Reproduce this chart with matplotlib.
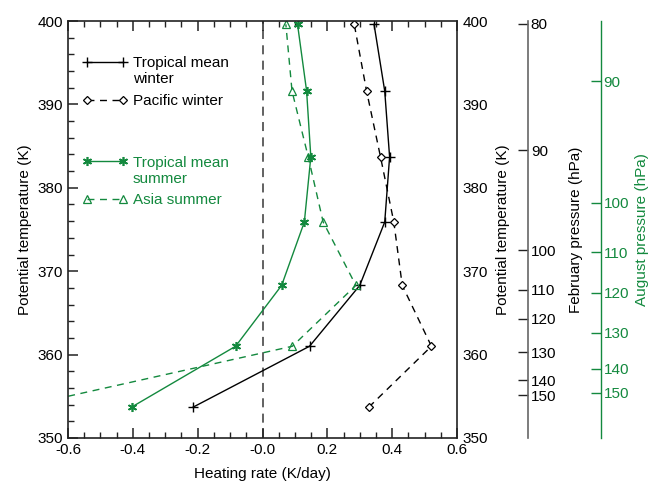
import matplotlib
matplotlib.use("Agg")
import matplotlib.pyplot as plt
from matplotlib.ticker import MultipleLocator, NullLocator
from matplotlib.lines import Line2D

plt.rcParams['font.family'] = ['Liberation Sans', 'DejaVu Sans']
plt.rcParams['font.size'] = 11
plt.rcParams['axes.unicode_minus'] = False

# ---- data ----
theta = [353.7, 361.0, 368.3, 375.9, 383.7, 391.6, 399.6]
trop_winter = [-0.214, 0.145, 0.300, 0.377, 0.392, 0.377, 0.344]
pacific_winter = [0.328, 0.521, 0.431, 0.405, 0.364, 0.321, 0.283]
trop_summer = [-0.404, -0.083, 0.059, 0.129, 0.149, 0.136, 0.108]
asia_summer = [-0.75, 0.092, 0.288, 0.187, 0.141, 0.091, 0.072]

feb_p = [80, 90, 100, 110, 120, 130, 140, 150]
feb_theta = [399.7, 384.5, 372.5, 367.8, 364.3, 360.3, 356.9, 355.1]
aug_p = [90, 100, 110, 120, 130, 140, 150]
aug_theta = [392.8, 378.2, 372.3, 367.4, 362.6, 358.3, 355.4]

GREEN = '#13893e'
SPINE = '#222222'
GRAY = '#666666'

plus_kw = dict(marker='+', ms=6.5, mew=1.0)
dia_kw = dict(marker='D', ms=4, mfc='white', mew=0.9)
star_kw = dict(marker=(6, 2, 0), ms=6.5, mew=1.2)
tri_kw = dict(marker='^', ms=6, mfc='none', mew=0.9)
DASH = (0, (5, 4))

fig = plt.figure(figsize=(6.49, 4.83), dpi=100)
ax = fig.add_axes([0.1048, 0.0932, 0.5994, 0.8633])
ax.set_xlim(-0.6, 0.6)
ax.set_ylim(350, 400)

ax.axvline(0, color='#555555', ls=(0, (5, 3.5)), lw=1.3, zorder=1)

ax.plot(trop_winter, theta, color='black', lw=1, **plus_kw)
ax.plot(pacific_winter, theta, color='black', lw=1, ls=DASH, **dia_kw)
ax.plot(trop_summer, theta, color=GREEN, lw=1, **star_kw)
ax.plot(asia_summer, theta, color=GREEN, lw=1, ls=DASH, **tri_kw)

ax.xaxis.set_major_locator(MultipleLocator(0.2))
ax.xaxis.set_minor_locator(MultipleLocator(0.05))
ax.yaxis.set_major_locator(MultipleLocator(10))
ax.yaxis.set_minor_locator(MultipleLocator(2))
ax.tick_params(which='both', direction='in', top=True, right=True, color=SPINE)
ax.tick_params(which='major', length=7, width=1.1)
ax.tick_params(which='minor', length=4, width=1.0)
ax.set_xticks([-0.6, -0.4, -0.2, 0, 0.2, 0.4, 0.6])
ax.set_xticklabels(['-0.6', '-0.4', '-0.2', '-0.0', '0.2', '0.4', '0.6'])
for s in ax.spines.values():
    s.set_color(SPINE)
    s.set_linewidth(1.2)
ax.set_xlabel('Heating rate (K/day)', labelpad=7)
ax.set_ylabel('Potential temperature (K)', labelpad=4)

# right theta axis labels
axr = ax.twinx()
axr.set_ylim(350, 400)
axr.yaxis.set_major_locator(MultipleLocator(10))
axr.yaxis.set_minor_locator(NullLocator())
axr.tick_params(which='both', length=0, pad=4)
for s in axr.spines.values():
    s.set_visible(False)
axr.set_ylabel('Potential temperature (K)', labelpad=6)

# February pressure axis
axf = ax.twinx()
axf.set_ylim(350, 400)
axf.spines['right'].set_position(('axes', 1.1825))
for k in ['left', 'top', 'bottom']:
    axf.spines[k].set_visible(False)
axf.spines['right'].set_color(GRAY)
axf.spines['right'].set_linewidth(1.2)
axf.set_yticks(feb_theta)
axf.set_yticklabels([str(p) for p in feb_p])
axf.yaxis.set_minor_locator(NullLocator())
axf.tick_params(direction='in', length=7, width=1.0, color=SPINE, pad=2)
axf.set_ylabel('February pressure (hPa)', labelpad=9)

# August pressure axis
axa = ax.twinx()
axa.set_ylim(350, 400)
axa.spines['right'].set_position(('axes', 1.370))
for k in ['left', 'top', 'bottom']:
    axa.spines[k].set_visible(False)
axa.spines['right'].set_color(GREEN)
axa.spines['right'].set_linewidth(1.0)
axa.set_yticks(aug_theta)
axa.set_yticklabels([str(p) for p in aug_p])
axa.yaxis.set_minor_locator(NullLocator())
axa.tick_params(direction='in', length=7, width=1.0, color=GREEN, labelcolor=GREEN, pad=2)
axa.set_ylabel('August pressure (hPa)', color=GREEN, labelpad=4)

# legends
h1 = Line2D([0], [0], color='black', lw=1, **plus_kw)
h2 = Line2D([0], [0], color='black', lw=1, ls=DASH, **dia_kw)
h3 = Line2D([0], [0], color=GREEN, lw=1, **star_kw)
h4 = Line2D([0], [0], color=GREEN, lw=1, ls=DASH, **tri_kw)
common = dict(loc='upper left', frameon=False, numpoints=2, handlelength=2.9,
              handletextpad=0.4, borderpad=0, borderaxespad=0, labelspacing=1.55,
              fontsize=11)
leg1 = ax.legend([h1, h2], ['Tropical mean', 'Pacific winter'],
                 bbox_to_anchor=(0.038, 0.915), **common)
ax.add_artist(leg1)
leg2 = ax.legend([h3, h4], ['Tropical mean', 'Asia summer'],
                 bbox_to_anchor=(0.038, 0.677), labelcolor=GREEN, **common)
ax.text(0.167, 0.860, 'winter', transform=ax.transAxes, va='center', ha='left',
        fontsize=11)
ax.text(0.167, 0.620, 'summer', transform=ax.transAxes, va='center', ha='left',
        fontsize=11, color=GREEN)

fig.savefig('out.png', dpi=100)
